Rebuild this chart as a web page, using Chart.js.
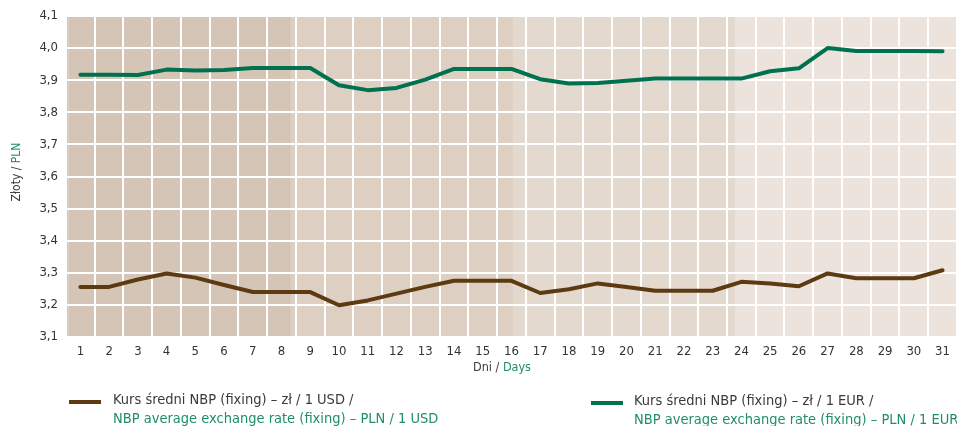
<!DOCTYPE html>
<html>
<head>
<meta charset="utf-8">
<script src="https://cdn.jsdelivr.net/npm/chart.js@4"></script>
<style>
  html, body { margin: 0; padding: 0; background: #fff; }
  #wrap { position: relative; width: 957px; height: 426px; overflow: hidden;
    font-family: "Liberation Sans Narrow", "DejaVu Sans Condensed", "Roboto", sans-serif; }
  #c { position: absolute; left: 0; top: 0; }
  .t { position: absolute; white-space: nowrap; }
  .dark { color: #3a3a3a; }
  .green { color: #1f8e6a; }
  .mark { position: absolute; height: 4px; width: 32px; }
  .leg { position: absolute; font-size: 14.5px; line-height: 19px; white-space: nowrap; }
</style>
</head>
<body>
<div id="wrap">
  <canvas id="c" width="957" height="426"></canvas>
  <div class="t" id="ytitle" style="left:-24px; top:165px; width:80px; text-align:center; font-size:12px; transform: rotate(-90deg);"><span class="dark">Złoty / </span><span class="green">PLN</span></div>
  <div class="t" style="left:452px; top:359px; width:100px; text-align:center; font-size:12.5px;"><span class="dark">Dni / </span><span class="green">Days</span></div>
  <div class="mark" style="left:69px; top:400px; background:#5e3a12;"></div>
  <div class="leg" style="left:113px; top:390px;"><div class="dark">Kurs średni NBP (fixing) – zł / 1 USD /</div><div class="green">NBP average exchange rate (fixing) – PLN / 1 USD</div></div>
  <div class="mark" style="left:591px; top:401px; background:#00714f;"></div>
  <div class="leg" style="left:634px; top:391px;"><div class="dark">Kurs średni NBP (fixing) – zł / 1 EUR /</div><div class="green">NBP average exchange rate (fixing) – PLN / 1 EUR</div></div>
</div>
<script>
const days = ["1","2","3","4","5","6","7","8","9","10","11","12","13","14","15","16","17","18","19","20","21","22","23","24","25","26","27","28","29","30","31"];
const usdRates = [3.256,3.256,3.279,3.298,3.285,3.262,3.240,3.240,3.240,3.199,3.214,3.235,3.256,3.275,3.275,3.275,3.237,3.249,3.267,3.256,3.244,3.244,3.244,3.272,3.267,3.258,3.298,3.283,3.283,3.283,3.308];
const eurRates = [3.917,3.917,3.916,3.933,3.930,3.932,3.938,3.938,3.938,3.884,3.869,3.876,3.902,3.935,3.935,3.935,3.903,3.890,3.891,3.898,3.905,3.905,3.905,3.905,3.928,3.937,4.000,3.991,3.991,3.991,3.990];
const yMin = 3.1, yMax = 4.1, yStep = 0.1;
const bandColors = ["#d5c5b6", "#ddd0c3", "#e3d9cf", "#ebe3dc"];

const bandsPlugin = {
  id: 'bands',
  beforeDraw(chart) {
    const a = chart.chartArea, ctx = chart.ctx;
    const start = a.left + 2.5;
    const w = (a.right - start) / bandColors.length;
    ctx.save();
    ctx.fillStyle = bandColors[0];
    ctx.fillRect(a.left, a.top, start - a.left, a.bottom - a.top);
    bandColors.forEach((c, i) => {
      ctx.fillStyle = c;
      ctx.fillRect(start + i * w, a.top, w + (i < bandColors.length - 1 ? 0.5 : 0), a.bottom - a.top);
    });
    ctx.restore();
  }
};

const tickFont = { family: '"Liberation Sans Narrow", "DejaVu Sans Condensed", sans-serif', size: 13 };

new Chart(document.getElementById('c'), {
  type: 'line',
  data: {
    labels: days,
    datasets: [
      { label: 'USD', data: usdRates, borderColor: '#5e3a12', borderWidth: 4, pointRadius: 0, tension: 0, borderJoinStyle: 'round', borderCapStyle: 'round' },
      { label: 'EUR', data: eurRates, borderColor: '#00714f', borderWidth: 4, pointRadius: 0, tension: 0, borderJoinStyle: 'round', borderCapStyle: 'round' }
    ]
  },
  options: {
    responsive: false,
    animation: false,
    events: [],
    layout: { padding: { top: 16, right: 0, bottom: 0, left: 0 } },
    plugins: { legend: { display: false }, tooltip: { enabled: false } },
    scales: {
      x: {
        offset: true,
        grid: { color: '#ffffff', lineWidth: 2, drawTicks: false, offset: true },
        border: { display: false },
        ticks: { color: '#333', font: tickFont, padding: 7, maxRotation: 0, autoSkip: false },
        afterFit(s) { s.height = 89; }
      },
      y: {
        min: yMin, max: yMax,
        grid: { color: '#ffffff', lineWidth: 2, drawTicks: false },
        border: { display: false },
        ticks: { stepSize: yStep, color: '#333', font: tickFont, padding: 8,
          callback: v => v.toFixed(1).replace('.', ',') },
        afterFit(s) { s.width = 66; }
      }
    }
  },
  plugins: [bandsPlugin]
});
</script>
</body>
</html>
